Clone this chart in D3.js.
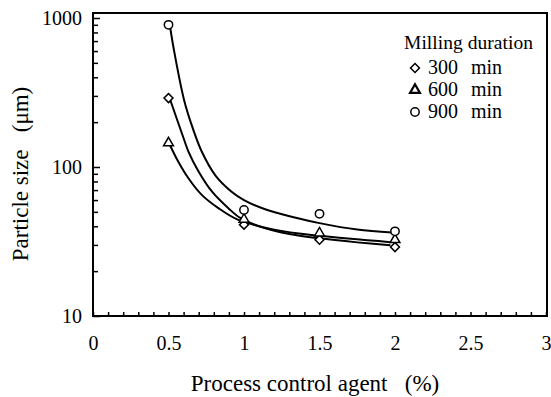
<!DOCTYPE html>
<html>
<head>
<meta charset="utf-8">
<script src="https://cdn.jsdelivr.net/npm/d3@7"></script>
<style>
  body { margin: 0; background: #fff; }
</style>
</head>
<body>
<div id="chart"></div>
<script>
// measured points
const agent = [0.5, 1, 1.5, 2];
const size300 = [290, 41, 32.5, 29];
const size600 = [145, 44.5, 36, 32.5];
const size900 = [900, 51.5, 48.5, 37];

// fitted curves as drawn in the figure, [agent %, size um]
const fit300 = [[0.51, 285], [0.6, 156], [0.632, 127], [0.7, 93], [0.79, 68], [0.9, 52.5], [0.975, 45.5], [1.1, 40], [1.3, 35.5], [1.5, 33.2], [1.75, 31.2], [1.97, 29.8]];
const fit600 = [[0.51, 140], [0.566, 108], [0.632, 84], [0.72, 65], [0.83, 53], [0.955, 44.5], [1.2, 38], [1.5, 34.5], [1.97, 31.3]];
const fit900 = [[0.51, 880], [0.536, 610], [0.603, 282], [0.656, 188], [0.72, 127], [0.81, 88], [0.92, 68], [1.0, 60], [1.14, 52], [1.35, 45.5], [1.5, 42], [1.75, 38], [1.98, 36.3]];

const xTicks = [0, 0.5, 1, 1.5, 2, 2.5, 3];
const yTicks = [10, 100, 1000];
const legendTitle = "Milling duration";
const seriesNames = ["300", "600", "900"];
const unit = "min";

const width = 551, height = 397;
const serif = '"Liberation Serif", "Times New Roman", serif';
const svg = d3.select('#chart').append('svg')
  .attr('width', width)
  .attr('height', height);

const x = d3.scaleLinear().domain([0, 3]).range([93, 546]);
const y = d3.scaleLog().domain([10, 1000]).range([316, 18]);

// frame
svg.append('rect')
  .attr('x', x(0))
  .attr('y', y(1000) - 5)
  .attr('width', x(3) - x(0) + 1)
  .attr('height', y(10) - y(1000) + 5)
  .attr('fill', 'none')
  .attr('stroke', '#000')
  .attr('stroke-width', 2);

// x axis: minor ticks every 0.1, labels every 0.5
const xMinor = d3.range(0, 31).map(i => i / 10);
svg.append('g')
  .attr('transform', `translate(0,${y(10)})`)
  .call(d3.axisBottom(x).tickValues(xMinor).tickFormat('').tickSizeInner(-4).tickSizeOuter(0))
  .call(g => g.select('.domain').remove())
  .call(g => g.selectAll('line').attr('stroke-width', 1.5));
svg.append('g')
  .attr('transform', `translate(0,${y(10)})`)
  .call(d3.axisBottom(x).tickValues(xTicks).tickFormat(d => d).tickSize(0).tickPadding(20))
  .call(g => g.select('.domain').remove())
  .call(g => g.selectAll('text').style('font-family', serif).style('font-size', '20px').style('fill', '#000'));

// y axis: log minor ticks
const yMinor = [];
[10, 100].forEach(dec => { for (let k = 2; k <= 9; k++) yMinor.push(dec * k); });
svg.append('g')
  .attr('transform', `translate(${x(0)},0)`)
  .call(d3.axisLeft(y).tickValues(yMinor).tickFormat('').tickSizeInner(-5).tickSizeOuter(0))
  .call(g => g.select('.domain').remove())
  .call(g => g.selectAll('line').attr('stroke-width', 1.5));
svg.append('g')
  .attr('transform', `translate(${x(0)},0)`)
  .call(d3.axisLeft(y).tickValues(yTicks).tickFormat(d => d).tickSizeInner(-7).tickSizeOuter(0).tickPadding(11))
  .call(g => g.select('.domain').remove())
  .call(g => g.selectAll('line').attr('stroke-width', 1.5))
  .call(g => g.selectAll('text').style('font-family', serif).style('font-size', '20px').style('fill', '#000'));

// axis titles
svg.append('text')
  .attr('x', 315)
  .attr('y', 391)
  .attr('text-anchor', 'middle')
  .style('font-family', serif)
  .style('font-size', '23px')
  .style('white-space', 'pre')
  .text('Process control agent   (%)');

svg.append('text')
  .attr('transform', 'translate(28,174) rotate(-90)')
  .attr('text-anchor', 'middle')
  .style('font-family', serif)
  .style('font-size', '23px')
  .style('white-space', 'pre')
  .text('Particle size   (\u03bcm)');

// curves
const line = d3.line()
  .x(d => x(d[0]))
  .y(d => y(d[1]))
  .curve(d3.curveCatmullRom.alpha(0.5));

[fit300, fit600, fit900].forEach(f => {
  svg.append('path')
    .attr('d', line(f))
    .attr('fill', 'none')
    .attr('stroke', '#000')
    .attr('stroke-width', 2);
});

// markers
const diamond = d3.symbol().type(d3.symbolSquare).size(40)();
const triangle = d3.symbol().type(d3.symbolTriangle).size(42)();
const circle = d3.symbol().type(d3.symbolCircle).size(55)();

const series = [
  {values: size300, path: diamond, rot: 45},
  {values: size600, path: triangle, rot: 0},
  {values: size900, path: circle, rot: 0}
];

series.forEach(s => {
  svg.append('g').selectAll('path')
    .data(agent.map((a, i) => [a, s.values[i]]))
    .enter()
    .append('path')
    .attr('transform', d => `translate(${x(d[0])},${y(d[1])}) rotate(${s.rot})`)
    .attr('d', s.path)
    .attr('fill', '#fff')
    .attr('stroke', '#000')
    .attr('stroke-width', 1.5);
});

// legend
const legend = svg.append('g').attr('transform', 'translate(404,49)');
legend.append('text')
  .attr('textLength', 129)
  .attr('lengthAdjust', 'spacing')
  .style('font-family', serif)
  .style('font-size', '19.5px')
  .text(legendTitle);
series.forEach((s, i) => {
  legend.append('path')
    .attr('transform', `translate(11,${19 + i * 22}) rotate(${s.rot})`)
    .attr('d', s.path)
    .attr('fill', '#fff')
    .attr('stroke', '#000')
    .attr('stroke-width', i === 1 ? 2.2 : 1.5);
  const t = legend.append('text')
    .attr('y', 25 + i * 22)
    .style('font-family', serif)
    .style('font-size', '20px');
  t.append('tspan').attr('x', 24).text(seriesNames[i]);
  t.append('tspan').attr('x', 67).text(unit);
});
</script>
</body>
</html>
